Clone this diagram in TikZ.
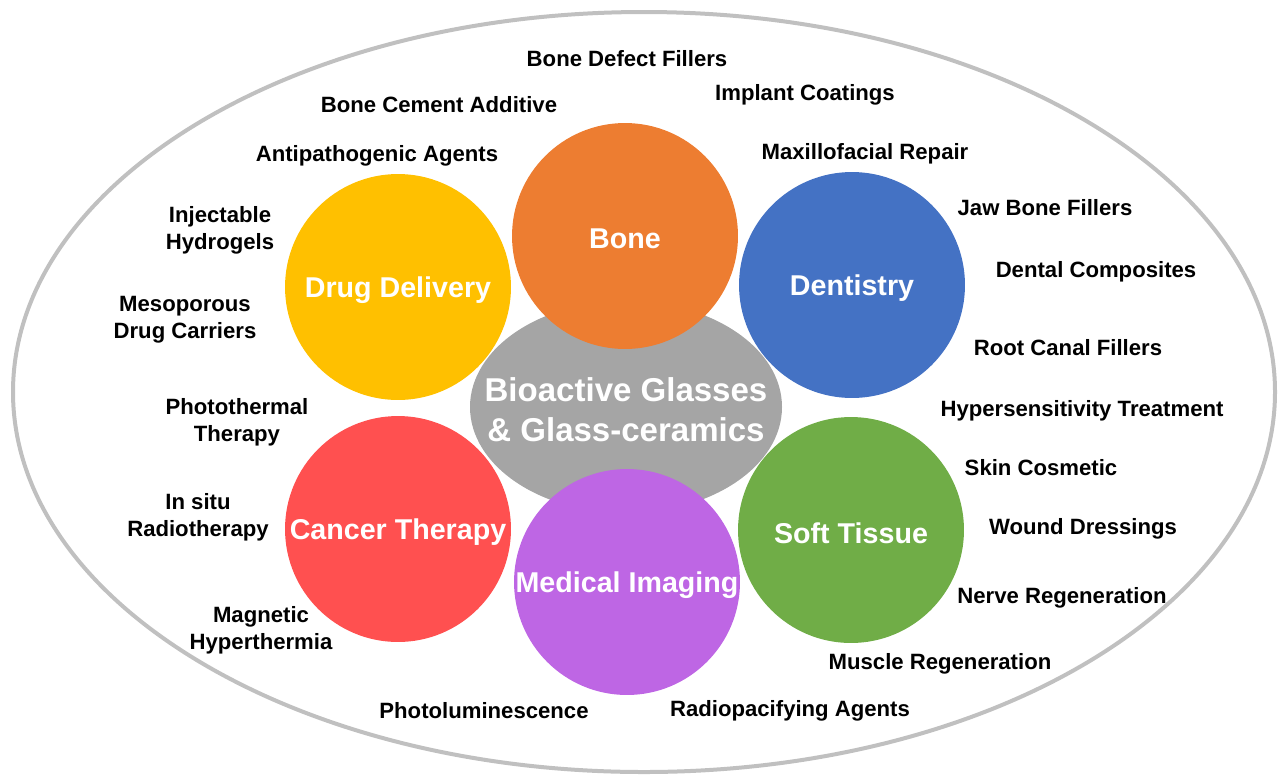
\documentclass[tikz,border=0pt]{standalone}
\usepackage{fontspec}
\setmainfont{Liberation Sans}
\definecolor{boneorange}{RGB}{237, 125, 49}
\definecolor{drugyellow}{RGB}{255, 192, 0}
\definecolor{dentblue}{RGB}{68, 114, 196}
\definecolor{cancerred}{RGB}{255, 80, 80}
\definecolor{softgreen}{RGB}{112, 173, 71}
\definecolor{imagviolet}{RGB}{190, 102, 228}
\definecolor{coregray}{RGB}{165, 165, 165}
\definecolor{rimgray}{RGB}{192, 192, 192}
\tikzset{
  topic/.style={circle, minimum size=4.52cm, inner sep=0pt},
  topictext/.style={text=white, yshift=-0.06cm, font=\fontsize{16.3}{19}\selectfont\bfseries},
  appl/.style={font=\fontsize{12.6}{15.3}\selectfont\bfseries, align=center, inner sep=1pt}
}

\begin{document}
\begin{tikzpicture}[x=0.02cm, y=-0.02cm]
  \useasboundingbox (0, 0) rectangle (1280, 775);

  % Outer frame
  \draw[rimgray, line width=0.08cm] (644, 392) ellipse [x radius=631, y radius=380];

  % Core
  \fill[coregray] (626, 407) ellipse [x radius=156, y radius=106];
  \node[text=white, align=center, font=\fontsize{18.8}{22.7}\selectfont\bfseries]
    (core) at (626, 410) {Bioactive Glasses\\\& Glass-ceramics};

  % Fields
  \node[topic, fill=boneorange, label={[topictext]center:Bone}] (bone) at (625, 236) {};
  \node[topic, fill=drugyellow, label={[topictext]center:Drug Delivery}] (drug) at (398, 287) {};
  \node[topic, fill=dentblue, label={[topictext]center:Dentistry}] (dent) at (852, 285) {};
  \node[topic, fill=cancerred, label={[topictext]center:Cancer Therapy}] (cancer) at (398, 529) {};
  \node[topic, fill=softgreen, label={[topictext]center:Soft Tissue}] (soft) at (851, 530) {};
  \node[topic, fill=imagviolet, label={[topictext]center:Medical Imaging}] (imaging) at (627, 582) {};

  % Applications, top
  \node[appl] (defect) at (627, 59) {Bone Defect Fillers};
  \node[appl] (cement) at (439, 105) {Bone Cement Additive};
  \node[appl] (coating) at (805, 95) {Implant Coatings};
  \node[appl] (antipath) at (377, 156) {Antipathogenic Agents};
  \node[appl] (maxillo) at (865, 154) {Maxillofacial Repair};

  % Applications, left
  \node[appl] (hydrogel) at (220, 230) {Injectable\\Hydrogels};
  \node[appl] (meso) at (185, 320) {Mesoporous\\Drug Carriers};
  \node[appl] (photo) at (237, 422) {Photothermal\\Therapy};
  \node[appl] (radio) at (198, 517) {In situ\\Radiotherapy};
  \node[appl] (hyper) at (261, 630) {Magnetic\\Hyperthermia};

  % Applications, right
  \node[appl] (jaw) at (1045, 208) {Jaw Bone Fillers};
  \node[appl] (composite) at (1096, 272) {Dental Composites};
  \node[appl] (rootcanal) at (1068, 348) {Root Canal Fillers};
  \node[appl] (sensitive) at (1082, 411) {Hypersensitivity Treatment};
  \node[appl] (skin) at (1041, 468) {Skin Cosmetic};
  \node[appl] (wound) at (1083, 529) {Wound Dressings};
  \node[appl] (nerve) at (1062, 598) {Nerve Regeneration};
  \node[appl] (muscle) at (940, 664) {Muscle Regeneration};

  % Applications, bottom
  \node[appl] (lumin) at (484, 711) {Photoluminescence};
  \node[appl] (radiopaque) at (790, 711) {Radiopacifying Agents};
\end{tikzpicture}
\end{document}
